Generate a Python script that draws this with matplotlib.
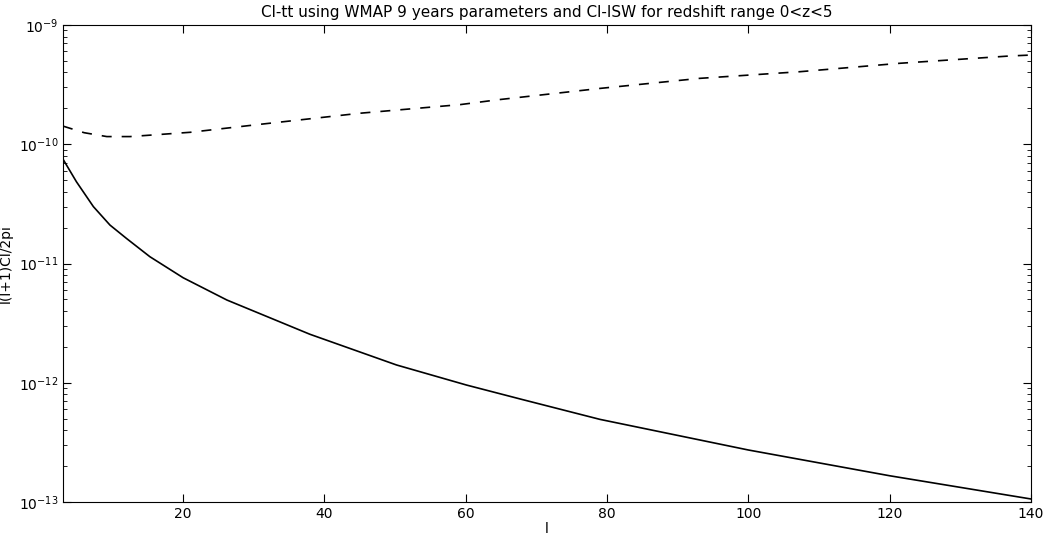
import matplotlib
matplotlib.use('Agg')
import matplotlib.pyplot as plt

# valores (l, l(l+1)Cl/2pi)
l_tt = [3, 4.9, 7.3, 9.65, 12.0, 15.3, 20.0, 26.2, 37.95, 50.2, 60.1, 67.9, 79.0, 100, 120, 140]
cl_tt = [7.5e-11, 4.85e-11, 3.0e-11, 2.1e-11, 1.62e-11, 1.14e-11, 7.6e-12, 4.94e-12, 2.55e-12,
         1.41e-12, 9.57e-13, 7.26e-13, 4.93e-13, 2.73e-13, 1.66e-13, 1.06e-13]

l_isw = [3, 3.5, 6, 9.2, 12.5, 21, 30.9, 45.0, 59.2, 64.5, 79.0, 93.1, 107.3, 121.5, 137.0, 140]
cl_isw = [1.42e-10, 1.39e-10, 1.25e-10, 1.16e-10, 1.16e-10, 1.26e-10, 1.47e-10, 1.82e-10,
          2.15e-10, 2.36e-10, 2.94e-10, 3.57e-10, 4.06e-10, 4.78e-10, 5.5e-10, 5.6e-10]

fig = plt.figure(figsize=(10.43, 5.38), dpi=100)
ax = fig.add_axes([0.0604, 0.0669, 0.9281, 0.8866])

ax.plot(l_tt, cl_tt, color='black', linewidth=1.2)
ax.plot(l_isw, cl_isw, color='black', linewidth=1.2, linestyle='--', dashes=(6, 6))

ax.set_yscale('log')
ax.set_xlim(3, 140)
ax.set_ylim(1e-13, 1e-9)
ax.set_xticks([20, 40, 60, 80, 100, 120, 140])

ax.tick_params(which='both', direction='in', top=True, right=True, labelsize=10)
ax.tick_params(which='major', length=6)
ax.tick_params(which='minor', length=3)

ax.set_title('Cl-tt using WMAP 9 years parameters and Cl-ISW for redshift range 0<z<5', fontsize=11)
ax.set_xlabel('l', fontsize=10, labelpad=1)
ax.set_ylabel('l(l+1)Cl/2pi', fontsize=10)

fig.savefig('out.png', dpi=100)
